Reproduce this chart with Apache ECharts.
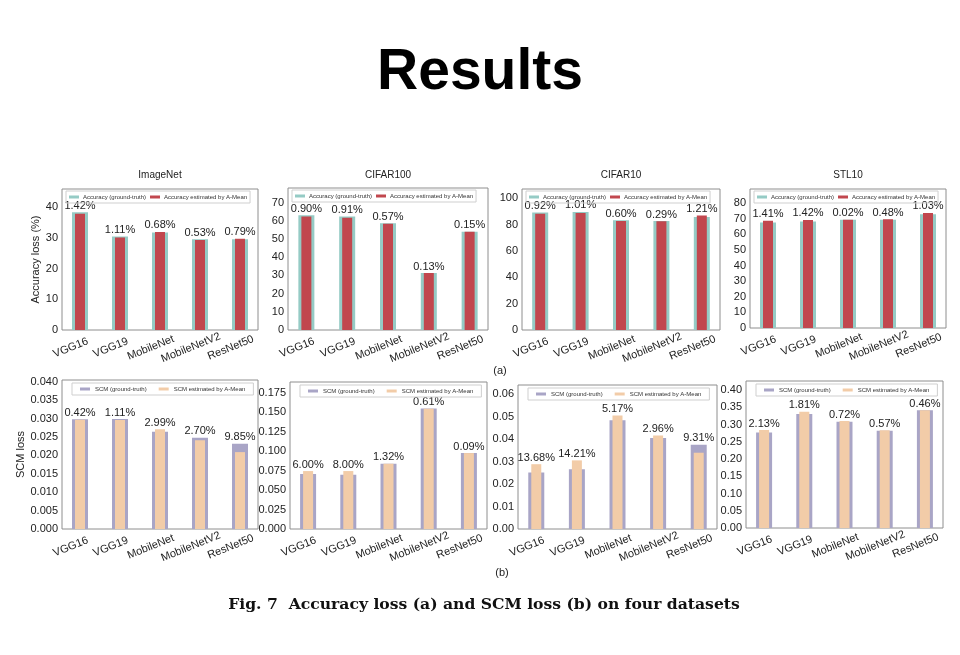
<!DOCTYPE html>
<html><head><meta charset="utf-8">
<script src="https://cdn.jsdelivr.net/npm/echarts@6/dist/echarts.min.js"></script>
<style>html,body{margin:0;padding:0;background:#fff}#c{width:960px;height:655px}</style>
</head><body><div id="c"></div><script>
const categories = ['VGG16','VGG19','MobileNet','MobileNetV2','ResNet50'];
const datasets = ['ImageNet','CIFAR100','CIFAR10','STL10'];
const accNames = ['Accuracy (ground-truth)','Accuracy estimated by A-Mean'];
const scmNames = ['SCM (ground-truth)','SCM estimated by A-Mean'];

// (a) Accuracy loss (%)
const accGtImageNet  = [38.4, 30.5, 31.8, 29.6, 29.6];
const accEstImageNet = [37.9, 30.2, 32.0, 29.4, 29.8];
const accPctImageNet = ['1.42%','1.11%','0.68%','0.53%','0.79%'];
const accGtCifar100  = [63.0, 62.3, 58.6, 31.3, 54.0];
const accEstCifar100 = [62.4, 61.7, 58.3, 31.3, 53.9];
const accPctCifar100 = ['0.90%','0.91%','0.57%','0.13%','0.15%'];
const accGtCifar10   = [89.1, 89.6, 83.2, 82.7, 85.8];
const accEstCifar10  = [88.3, 88.7, 82.7, 82.5, 86.9];
const accPctCifar10  = ['0.92%','1.01%','0.60%','0.29%','1.21%'];
const accGtStl10     = [67.6, 68.2, 69.3, 69.3, 72.9];
const accEstStl10    = [68.6, 69.2, 69.3, 69.6, 73.7];
const accPctStl10    = ['1.41%','1.42%','0.02%','0.48%','1.03%'];

// (b) SCM loss
const scmGtImageNet  = [0.0298, 0.0299, 0.0264, 0.0248, 0.0232];
const scmEstImageNet = [0.0297, 0.0296, 0.0271, 0.0241, 0.0209];
const scmPctImageNet = ['0.42%','1.11%','2.99%','2.70%','9.85%'];
const scmGtCifar100  = [0.0706, 0.0697, 0.0839, 0.1549, 0.0977];
const scmEstCifar100 = [0.0745, 0.0745, 0.0839, 0.1545, 0.0976];
const scmPctCifar100 = ['6.00%','8.00%','1.32%','0.61%','0.09%'];
const scmGtCifar10   = [0.0251, 0.0266, 0.0483, 0.0404, 0.0374];
const scmEstCifar10  = [0.0288, 0.0305, 0.0505, 0.0416, 0.0339];
const scmPctCifar10  = ['13.68%','14.21%','5.17%','2.96%','9.31%'];
const scmGtStl10     = [0.2765, 0.3304, 0.308, 0.282, 0.341];
const scmEstStl10    = [0.2840, 0.3370, 0.310, 0.283, 0.341];
const scmPctStl10    = ['2.13%','1.81%','0.72%','0.57%','0.46%'];

// y-axis tick settings
const yMax = [46, 78, 107, 89, 0.0405, 0.189, 0.064, 0.426];
const yInterval = [10, 10, 20, 10, 0.005, 0.025, 0.01, 0.05];
const yDecimals = [0, 0, 0, 0, 3, 3, 2, 2];

const panels = [
  {gt: accGtImageNet, est: accEstImageNet, pct: accPctImageNet, names: accNames},
  {gt: accGtCifar100, est: accEstCifar100, pct: accPctCifar100, names: accNames},
  {gt: accGtCifar10,  est: accEstCifar10,  pct: accPctCifar10,  names: accNames},
  {gt: accGtStl10,    est: accEstStl10,    pct: accPctStl10,    names: accNames},
  {gt: scmGtImageNet, est: scmEstImageNet, pct: scmPctImageNet, names: scmNames},
  {gt: scmGtCifar100, est: scmEstCifar100, pct: scmPctCifar100, names: scmNames},
  {gt: scmGtCifar10,  est: scmEstCifar10,  pct: scmPctCifar10,  names: scmNames},
  {gt: scmGtStl10,    est: scmEstStl10,    pct: scmPctStl10,    names: scmNames}
];

// layout (pixels)
const layout = [
  {left:62,  top:189, w:196, h:141},
  {left:288, top:188, w:200, h:142},
  {left:522, top:189, w:198, h:141},
  {left:750, top:189, w:196, h:139},
  {left:62,  top:380, w:196, h:149},
  {left:290, top:382, w:197, h:147},
  {left:518, top:385, w:199, h:144},
  {left:746, top:381, w:197, h:147}
];
const colors = {
  acc: ['#95cbc5', '#c1474e'],
  scm: ['#a9a5c6', '#f2cca8']
};
const FONT = '"Liberation Sans", Arial, sans-serif';

const option = {
  backgroundColor: '#fff',
  animation: false,
  grid: [], xAxis: [], yAxis: [], series: [], legend: [], graphic: []
};

panels.forEach((p, i) => {
  const L = layout[i];
  const isAcc = i < 4;
  const col = isAcc ? colors.acc : colors.scm;
  option.grid.push({left: L.left, top: L.top, width: L.w, height: L.h, show: true,
    borderColor: '#8e8e8e', borderWidth: 1, backgroundColor: 'transparent'});
  const xBase = {type: 'value', gridIndex: i, min: -0.45, max: 4.45,
    splitLine: {show: false}, axisLine: {show: false}, axisTick: {show: false}};
  option.xAxis.push(Object.assign({}, xBase, {
    axisLabel: {customValues: [0,1,2,3,4], formatter: v => categories[Math.round(v)],
      rotate: 22, align: 'center', padding: [0, 20, 0, 0], margin: 14,
      fontSize: 11, color: '#222', fontFamily: FONT}
  }));
  option.xAxis.push(Object.assign({}, xBase, {axisLabel: {show: false}}));
  const dec = yDecimals[i];
  const yAx = {type: 'value', gridIndex: i, min: 0, max: yMax[i], interval: yInterval[i],
    splitLine: {show: false}, axisLine: {show: false}, axisTick: {show: false},
    axisLabel: {fontSize: 11, color: '#222', fontFamily: FONT, margin: 4, showMaxLabel: false,
      formatter: v => v.toFixed(dec)}};
  if (i === 0) Object.assign(yAx, {name: 'Accuracy loss (%)', nameLocation: 'middle', nameGap: 16,
    nameTextStyle: {fontSize: 11, color: '#222', fontFamily: FONT}});
  if (i === 4) Object.assign(yAx, {name: 'SCM loss', nameLocation: 'middle', nameGap: 30,
    nameTextStyle: {fontSize: 11, color: '#222', fontFamily: FONT}});
  option.yAxis.push(yAx);

  const lab = (mine, other, isGt) => ({
    show: true, position: 'top', distance: 1, fontSize: 11, color: '#222', fontFamily: FONT,
    formatter: prm => {
      const k = prm.dataIndex;
      const show = isGt ? mine[k] >= other[k] : mine[k] > other[k];
      return show ? p.pct[k] : '';
    }
  });
  option.series.push({type: 'bar', name: p.names[0], xAxisIndex: 2*i, yAxisIndex: i,
    barWidth: 16, data: p.gt.map((v, j) => [j, v]), itemStyle: {color: col[0]},
    label: lab(p.gt, p.est, true), z: 2});
  option.series.push({type: 'bar', name: p.names[1], xAxisIndex: 2*i+1, yAxisIndex: i,
    barWidth: 10, data: p.est.map((v, j) => [j, v]), itemStyle: {color: col[1]},
    label: lab(p.est, p.gt, false), z: 3});

  option.legend.push(isAcc ? {
    data: p.names, left: L.left + 4, top: L.top + 2, orient: 'horizontal',
    itemWidth: 10, itemHeight: 3, itemGap: 4, padding: [3, 3],
    borderColor: '#cfcfcf', borderWidth: 1, selectedMode: false, icon: 'rect',
    textStyle: {fontSize: 6, color: '#333', fontFamily: FONT, padding: [0,0,0,-1]}
  } : {
    data: p.names, left: L.left + 10, top: L.top + 3, orient: 'horizontal',
    itemWidth: 10, itemHeight: 3, itemGap: 12, padding: [3, 8],
    borderColor: '#cfcfcf', borderWidth: 1, selectedMode: false, icon: 'rect',
    textStyle: {fontSize: 6, color: '#333', fontFamily: FONT}
  });

  if (isAcc) {
    option.graphic.push({type: 'text', x: L.left + L.w / 2, y: 175,
      style: {text: datasets[i], align: 'center', verticalAlign: 'middle',
        fontSize: 10, fontFamily: FONT, fill: '#222'}});
  }
});

option.graphic.push(
  {type: 'text', x: 480, y: 73, style: {text: 'Results', align: 'center', verticalAlign: 'middle',
    fontSize: 57, fontWeight: 'bold', fontFamily: FONT, fill: '#000'}},
  {type: 'text', x: 500, y: 371, style: {text: '(a)', align: 'center', verticalAlign: 'middle',
    fontSize: 11, fontFamily: FONT, fill: '#222'}},
  {type: 'text', x: 502, y: 573, style: {text: '(b)', align: 'center', verticalAlign: 'middle',
    fontSize: 11, fontFamily: FONT, fill: '#222'}},
  {type: 'text', x: 484, y: 605, style: {text: 'Fig. 7  Accuracy loss (a) and SCM loss (b) on four datasets',
    align: 'center', verticalAlign: 'middle', fontSize: 15.6, fontWeight: 'bold',
    fontFamily: '"DejaVu Serif", serif', fill: '#111'}}
);

const chart = echarts.init(document.getElementById('c'), null, {renderer: 'canvas'});
chart.setOption(option);
</script></body></html>
